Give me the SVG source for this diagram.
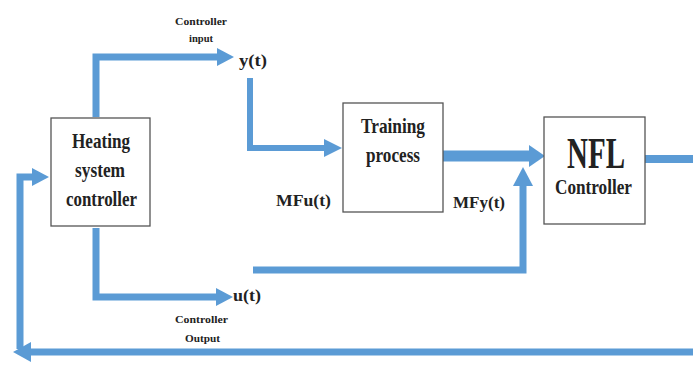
<svg xmlns="http://www.w3.org/2000/svg" width="693" height="365" viewBox="0 0 693 365">
<style>
.box{fill:#fff;stroke:#555;stroke-width:1.3}
.ln{fill:none;stroke:#5b9bd5;stroke-linejoin:miter}
.ah{fill:#5b9bd5}
text{font-family:"Liberation Serif","Times New Roman",serif;font-weight:bold;fill:#222}
.big{font-size:22px}
.mid{font-size:17px}
.sm{font-size:11px}
</style>
<rect width="693" height="365" fill="#fff"/>
<g id="connectors">
<polyline class="ln" stroke-width="7" points="96,117 96,57 220,57"/>
<polygon class="ah" points="217,48 234,57 217,66"/>
<polyline class="ln" stroke-width="6" points="250,78 250,148 326,148"/>
<polygon class="ah" points="324,139 342,148 324,157"/>
<line class="ln" stroke-width="11" x1="443" y1="156" x2="530" y2="156"/>
<polygon class="ah" points="529,145 545,156 529,167"/>
<line class="ln" stroke-width="8" x1="645" y1="159" x2="693" y2="159"/>
<polyline class="ln" stroke-width="7" points="96,228 96,297 218,297"/>
<polygon class="ah" points="216,288 233,297 216,306"/>
<polyline class="ln" stroke-width="7" points="253,270 523,270 523,185"/>
<polygon class="ah" points="513,186 523,167 533,186"/>
<line class="ln" stroke-width="7" x1="693" y1="352" x2="28" y2="352"/>
<polygon class="ah" points="31,342 13,352 31,362"/>
<polyline class="ln" stroke-width="7" points="20,349 20,177 34,177"/>
<polygon class="ah" points="32,168 49,177 32,186"/>
</g>
<g id="heating">
<rect class="box" x="51" y="118" width="99" height="108"/>
<text class="big" x="72" y="148" textLength="58" lengthAdjust="spacingAndGlyphs">Heating</text>
<text class="big" x="75" y="177" textLength="50" lengthAdjust="spacingAndGlyphs">system</text>
<text class="big" x="66" y="206" textLength="71" lengthAdjust="spacingAndGlyphs">controller</text>
</g>
<g id="training">
<rect class="box" x="343" y="103" width="100" height="109"/>
<text class="big" x="361" y="133" textLength="64" lengthAdjust="spacingAndGlyphs">Training</text>
<text class="big" x="366" y="162" textLength="54" lengthAdjust="spacingAndGlyphs">process</text>
</g>
<g id="nfl">
<rect class="box" x="544" y="117" width="101" height="107"/>
<text x="567" y="168" font-size="44" textLength="58" lengthAdjust="spacingAndGlyphs">NFL</text>
<text x="555" y="194" font-size="20" textLength="77" lengthAdjust="spacingAndGlyphs">Controller</text>
</g>
<g id="labels">
<text class="sm" x="175" y="25" textLength="52" lengthAdjust="spacingAndGlyphs">Controller</text>
<text class="sm" x="189" y="42" textLength="24" lengthAdjust="spacingAndGlyphs">input</text>
<text class="mid" x="239" y="66" textLength="28" lengthAdjust="spacingAndGlyphs">y(t)</text>
<text class="mid" x="233" y="301" textLength="28" lengthAdjust="spacingAndGlyphs">u(t)</text>
<text class="sm" x="175" y="323" textLength="53" lengthAdjust="spacingAndGlyphs">Controller</text>
<text class="sm" x="185" y="342" textLength="35" lengthAdjust="spacingAndGlyphs">Output</text>
<text class="mid" x="276" y="206" textLength="55" lengthAdjust="spacingAndGlyphs">MFu(t)</text>
<text class="mid" x="453" y="208" textLength="52" lengthAdjust="spacingAndGlyphs">MFy(t)</text>
</g>
</svg>
